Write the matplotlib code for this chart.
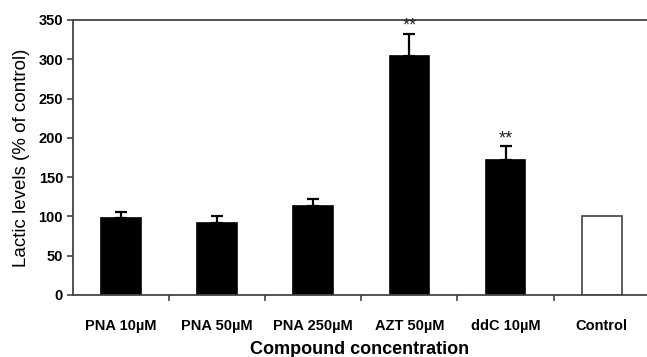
import matplotlib
matplotlib.use("Agg")
import matplotlib.pyplot as plt
import numpy as np

categories = ["PNA 10µM", "PNA 50µM", "PNA 250µM", "AZT 50µM", "ddC 10µM", "Control"]
values = [98, 91, 113, 304, 172, 100]
errors = [8, 9, 9, 28, 17, 0]
significant = [False, False, False, True, True, False]
yticks = [0, 50, 100, 150, 200, 250, 300, 350]

plt.rcParams['font.family'] = ['Liberation Sans', 'DejaVu Sans']

fig = plt.figure(figsize=(6.47, 3.57), dpi=100)
ax = fig.add_axes([0.1124, 0.1737, 0.8876, 0.7703])

x = np.arange(len(categories))
colors = ['black'] * (len(categories) - 1) + ['white']
ax.bar(x, values, width=0.41, color=colors, edgecolor=['black'] * 5 + ['#444444'], linewidth=1.2, zorder=2)
for xi, v, e, s in zip(x, values, errors, significant):
    if e > 0:
        ax.errorbar(xi, v, yerr=[[0], [e]], fmt='none', ecolor='black', elinewidth=1.6, capsize=4.5, capthick=1.6, zorder=3)
    if s:
        ax.text(xi, v + e - 1, "**", ha='center', va='bottom', fontsize=13, color='#222222')

ax.set_xlim(-0.5, 5.47)
ax.set_ylim(0, 350)
ax.set_yticks(yticks)
ax.set_yticklabels([str(t) for t in yticks], fontweight='bold', fontsize=10.5)
ax.set_xticks(x)
ax.set_xticklabels(categories, fontweight='bold', fontsize=10.5)
ax.tick_params(axis='x', which='major', length=0, pad=17)
ax.set_xticks(np.arange(0.5, 5.5, 1.0), minor=True)
ax.tick_params(axis='x', which='minor', length=4, width=1.2, direction='out', color='#444444')
ax.tick_params(axis='y', length=4, width=1.2, direction='out', color='#444444', pad=3)

for side in ['left', 'bottom', 'top']:
    ax.spines[side].set_color('#444444')
    ax.spines[side].set_linewidth(1.3)
ax.spines['right'].set_visible(False)

ax.set_ylabel("Lactic levels (% of control)", fontsize=13.5, labelpad=6)
ax.set_xlabel("Compound concentration", fontsize=13, fontweight='bold', labelpad=6)

fig.savefig("out.png", dpi=100)
